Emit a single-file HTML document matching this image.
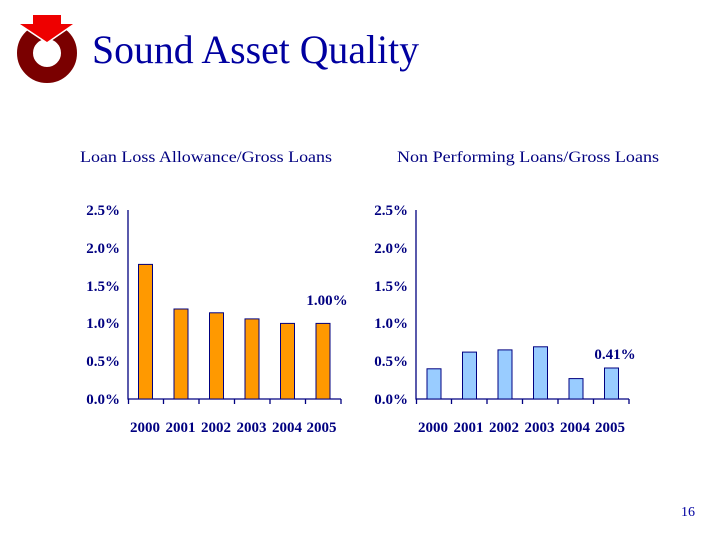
<!DOCTYPE html>
<html><head><meta charset="utf-8"><style>
html,body{margin:0;padding:0;background:#fff;}
svg{display:block;}
</style></head><body>
<svg width="720" height="540" viewBox="0 0 720 540" xmlns="http://www.w3.org/2000/svg" font-family="Liberation Serif, serif">
<rect width="720" height="540" fill="#fff"/>
<circle cx="47" cy="53" r="22" fill="none" stroke="#7a0000" stroke-width="16"/>
<polygon points="33,15 61,15 61,24 73,24 47,42 20,24 33,24" fill="#ee0000" stroke="#fff" stroke-width="3"/>
<polygon points="33,15 61,15 61,24 73,24 47,42 20,24 33,24" fill="#ee0000"/>
<text x="92" y="63" font-size="40" fill="#0000a0" textLength="327" lengthAdjust="spacingAndGlyphs">Sound Asset Quality</text>
<text x="80" y="162" font-size="16" fill="#000080" textLength="252" lengthAdjust="spacingAndGlyphs">Loan Loss Allowance/Gross Loans</text>
<text x="397" y="162" font-size="16" fill="#000080" textLength="262" lengthAdjust="spacingAndGlyphs">Non Performing Loans/Gross Loans</text>
<g font-weight="bold" font-size="15" fill="#000080" text-anchor="end">
<text x="120" y="215">2.5%</text><text x="120" y="253">2.0%</text><text x="120" y="291">1.5%</text>
<text x="120" y="328">1.0%</text><text x="120" y="366">0.5%</text><text x="120" y="404">0.0%</text>
<text x="408" y="215">2.5%</text><text x="408" y="253">2.0%</text><text x="408" y="291">1.5%</text>
<text x="408" y="328">1.0%</text><text x="408" y="366">0.5%</text><text x="408" y="404">0.0%</text>
</g>
<g stroke="#000080" stroke-width="1.3" fill="none">
<path d="M128,210V399H341"/>
<path d="M128.5,399v5M163.5,399v5M199,399v5M234.5,399v5M270,399v5M305.5,399v5M341,399v5"/>
<path d="M416,210V399H629"/>
<path d="M416.5,399v5M451.5,399v5M487,399v5M522.5,399v5M558,399v5M593.5,399v5M629,399v5"/>
</g>
<g fill="#ff9900" stroke="#000080" stroke-width="1">
<rect x="138.5" y="264.4" width="14" height="134.6"/>
<rect x="174" y="309" width="14" height="90"/>
<rect x="209.5" y="312.8" width="14" height="86.2"/>
<rect x="245" y="318.9" width="14" height="80.1"/>
<rect x="280.5" y="323.4" width="14" height="75.6"/>
<rect x="316" y="323.4" width="14" height="75.6"/>
</g>
<g fill="#99ccff" stroke="#000080" stroke-width="1">
<rect x="427" y="368.8" width="14" height="30.2"/>
<rect x="462.5" y="352.1" width="14" height="46.9"/>
<rect x="498" y="349.9" width="14" height="49.1"/>
<rect x="533.5" y="346.8" width="14" height="52.2"/>
<rect x="569" y="378.6" width="14" height="20.4"/>
<rect x="604.5" y="368" width="14" height="31"/>
</g>
<g font-weight="bold" font-size="15" fill="#000080" text-anchor="middle">
<text x="145" y="432">2000</text><text x="180.5" y="432">2001</text><text x="216" y="432">2002</text>
<text x="251.5" y="432">2003</text><text x="287" y="432">2004</text><text x="321.5" y="432">2005</text>
<text x="433" y="432">2000</text><text x="468.5" y="432">2001</text><text x="504" y="432">2002</text>
<text x="539.5" y="432">2003</text><text x="575" y="432">2004</text><text x="610" y="432">2005</text>
<text x="327" y="305">1.00%</text>
<text x="615" y="359">0.41%</text>
</g>
<text x="681" y="516" font-size="14" fill="#0000a0">16</text>
</svg>
</body></html>
